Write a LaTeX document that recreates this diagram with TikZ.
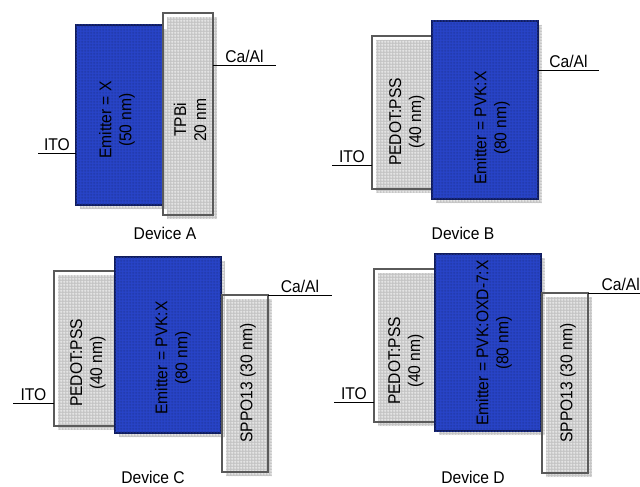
\documentclass[tikz,border=0pt]{standalone}
\usepackage{fontspec}
\setmainfont{Liberation Sans}[FakeStretch=0.92]
\usetikzlibrary{positioning,shadows,calc,patterns.meta}
\definecolor{emblue}{HTML}{2844C8}
\definecolor{emedge}{HTML}{101C5C}
\definecolor{layergrey}{HTML}{C4C4C4}
\definecolor{edgegrey}{HTML}{5A5A5A}
\tikzdeclarepattern{name=mesh, type=uncolored, bounding box={(0pt,0pt) and (3pt,3pt)},
  tile size={(3pt,3pt)},
  code={\draw[line width=0.7pt] (0pt,1.5pt) -- (3pt,1.5pt) (1.5pt,0pt) -- (1.5pt,3pt);}}
\tikzset{
  layer/.style      = {draw=edgegrey, line width=1.3pt, inner sep=0pt, outer sep=0pt, anchor=north west,
                       drop shadow={shadow xshift=4pt, shadow yshift=-4pt, fill=layergrey, opacity=1,
                                    postaction={pattern=mesh, pattern color=white!85!layergrey}}},
  emitter/.style    = {layer, draw=emedge, fill=emblue,
                       postaction={pattern=mesh, pattern color=emblue!82!black}},
  wire/.style       = {line width=0.9pt},
  every node/.style = {font=\fontsize{17}{20}\selectfont},
  lbl/.style        = {inner sep=1.5pt},
  vlbl/.style       = {rotate=90, align=center, inner sep=0pt},
}

\begin{document}
\begin{tikzpicture}[x=1pt, y=-1pt]
  \useasboundingbox (0,0) rectangle (640,487);
  % device A
  \node[emitter, minimum width=87pt, minimum height=180pt] (emA) at (76,25) {};
  \node[layer, minimum width=50pt, minimum height=202pt] (tpbA) at (163,13) {};
  \node[vlbl] (tEmA) at (117,120) {Emitter = X\\(50 nm)};
  \node[vlbl] (tTpbA) at (190,120) {TPBi\\20 nm};
  \coordinate (itoA) at (38,153);
  \coordinate (caA) at (276,65);
  \draw[wire] (itoA) -- (itoA -| emA.west) node[midway, above, lbl] (itoAl) {ITO};
  \draw[wire] (tpbA.east |- caA) -- (caA) node[midway, above, lbl] (caAl) {Ca/Al};
  \node (devA) at (165,233) {Device A};
  % device B
  \node[layer, minimum width=61pt, minimum height=153pt] (pedB) at (372,36) {};
  \node[emitter, minimum width=106pt, minimum height=178pt] (emB) at (432,21) {};
  \node[vlbl] (tPedB) at (407,122) {PEDOT:PSS\\(40 nm)};
  \node[vlbl] (tEmB) at (492,128) {Emitter = PVK:X\\(80 nm)};
  \coordinate (itoB) at (332,165);
  \coordinate (caB) at (599,70);
  \draw[wire] (itoB) -- (itoB -| pedB.west) node[midway, above, lbl] (itoBl) {ITO};
  \draw[wire] (emB.east |- caB) -- (caB) node[midway, above, lbl] (caBl) {Ca/Al};
  \node (devB) at (463,233) {Device B};
  % device C
  \node[layer, minimum width=62pt, minimum height=155pt] (pedC) at (54,271) {};
  \node[emitter, minimum width=106pt, minimum height=176pt] (emC) at (115,257) {};
  \node[layer, minimum width=46pt, minimum height=177pt] (sppC) at (222,295) {};
  \node[vlbl] (tPedC) at (88,363) {PEDOT:PSS\\(40 nm)};
  \node[vlbl] (tEmC) at (173,358) {Emitter = PVK:X\\(80 nm)};
  \node[vlbl] (tSppC) at (248,383) {SPPO13 (30 nm)};
  \coordinate (itoC) at (13,403);
  \coordinate (caC) at (332,295);
  \draw[wire] (itoC) -- (itoC -| pedC.west) node[midway, above, lbl] (itoCl) {ITO};
  \draw[wire] (sppC.east |- caC) -- (caC) node[midway, above, lbl] (caCl) {Ca/Al};
  \node (devC) at (153,477) {Device C};
  % device D
  \node[layer, minimum width=62pt, minimum height=153pt] (pedD) at (374,269) {};
  \node[emitter, minimum width=106pt, minimum height=177pt] (emD) at (435,254) {};
  \node[layer, minimum width=46pt, minimum height=180pt] (sppD) at (542,293) {};
  \node[vlbl] (tPedD) at (406,361) {PEDOT:PSS\\(40 nm)};
  \node[vlbl] (tEmD) at (494,343) {Emitter = PVK:OXD-7:X\\(80 nm)};
  \node[vlbl] (tSppD) at (568,383) {SPPO13 (30 nm)};
  \coordinate (itoD) at (334,402);
  \coordinate (caD) at (640,293);
  \draw[wire] (itoD) -- (itoD -| pedD.west) node[midway, above, lbl] (itoDl) {ITO};
  \draw[wire] (sppD.east |- caD) -- (caD) node[pos=0.63, above, lbl] (caDl) {Ca/Al};
  \node (devD) at (473,477) {Device D};
\end{tikzpicture}
\end{document}
